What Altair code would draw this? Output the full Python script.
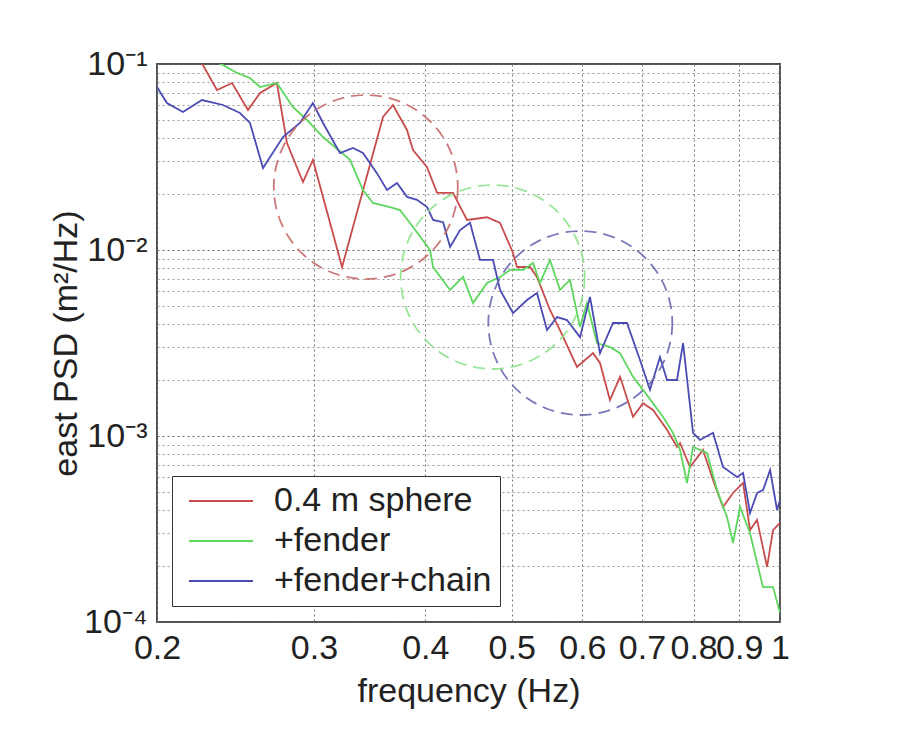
import altair as alt
import pandas as pd

series_names = ["0.4 m sphere", "+fender", "+fender+chain"]
line_colors = ["#c94c4c", "#5cd65c", "#4b4bb5"]
circle_colors = ["#c86a6a", "#8fe48f", "#6b6bb3"]

red_freq = [0.2, 0.2252, 0.2335, 0.2428, 0.2530, 0.2610, 0.2726, 0.2798, 0.2916, 0.2992,
            0.3226, 0.3586, 0.3680, 0.3815, 0.3875, 0.4018, 0.4123, 0.4297, 0.4455, 0.4691,
            0.4852, 0.5017, 0.5069, 0.5242, 0.5337, 0.5520, 0.5664, 0.5919, 0.6169, 0.6281,
            0.6445, 0.6615, 0.6841, 0.7020, 0.7203, 0.7468, 0.7664, 0.7724, 0.7926, 0.8197,
            0.8411, 0.8631, 0.8857, 0.9090, 0.9255, 0.9425, 0.9671, 0.9822, 1.0]
red_psd = [0.16, 0.0988, 0.0725, 0.0790, 0.0566, 0.0698, 0.0790, 0.0376, 0.0232, 0.0305,
           0.0081, 0.0519, 0.0602, 0.0442, 0.0345, 0.0279, 0.0203, 0.0203, 0.0145, 0.0150,
           0.0140, 0.00964, 0.0081, 0.0081, 0.00716, 0.00476, 0.00371, 0.00235, 0.00279, 0.00247,
           0.00156, 0.00208, 0.00127, 0.00150, 0.00138, 0.00108, 0.000873, 0.000917, 0.000681, 0.000841,
           0.000580, 0.000415, 0.000494, 0.000559, 0.000312, 0.000354, 0.000198, 0.000312, 0.000341]

green_freq = [0.2, 0.2372, 0.2459, 0.2543, 0.2610, 0.2726, 0.2841, 0.2946, 0.3071, 0.3293,
              0.3405, 0.3494, 0.3651, 0.3747, 0.3875, 0.4049, 0.4081, 0.4264, 0.4409, 0.4525,
              0.4691, 0.4852, 0.4979, 0.5148, 0.5284, 0.5379, 0.5520, 0.5664, 0.5813, 0.5965,
              0.6073, 0.6233, 0.6445, 0.6615, 0.6841, 0.7020, 0.7203, 0.7391, 0.7585, 0.7724,
              0.7864, 0.7988, 0.8282, 0.8499, 0.8721, 0.8857, 0.9019, 0.9255, 0.9425, 0.9572,
              0.9822, 1.0]
green_psd = [0.14, 0.0988, 0.0895, 0.0841, 0.0752, 0.0790, 0.0587, 0.0500, 0.0405, 0.0305,
             0.0210, 0.0179, 0.0170, 0.0164, 0.0133, 0.0100, 0.0081, 0.0061, 0.00716, 0.00519,
             0.00665, 0.00716, 0.00781, 0.00781, 0.00851, 0.00665, 0.00884, 0.0061, 0.0069, 0.00386,
             0.00519, 0.00316, 0.00301, 0.00279, 0.00208, 0.00177, 0.00150, 0.00127, 0.00104, 0.000841,
             0.000559, 0.000873, 0.000810, 0.000512, 0.000367, 0.000266, 0.000415, 0.000301, 0.000208, 0.000154,
             0.000154, 0.000112]

blue_freq = [0.2, 0.2052, 0.2139, 0.2246, 0.2372, 0.2478, 0.2543, 0.2630, 0.2769, 0.2893,
             0.2992, 0.3071, 0.3209, 0.3318, 0.3405, 0.3530, 0.3623, 0.3718, 0.3815, 0.3915,
             0.4018, 0.4081, 0.4188, 0.4264, 0.4376, 0.4490, 0.4607, 0.4765, 0.4852, 0.5017,
             0.5202, 0.5337, 0.5478, 0.5621, 0.5768, 0.5965, 0.6121, 0.6281, 0.6496, 0.6735,
             0.6965, 0.7147, 0.7334, 0.7468, 0.7664, 0.7785, 0.7988, 0.8133, 0.8411, 0.8631,
             0.8949, 0.9090, 0.9255, 0.9425, 0.9572, 0.9747, 0.9924, 1.0]
blue_psd = [0.0752, 0.0617, 0.0552, 0.0640, 0.0602, 0.0545, 0.0482, 0.0276, 0.0405, 0.0482,
            0.0617, 0.0482, 0.0332, 0.0354, 0.0332, 0.0259, 0.0210, 0.0229, 0.0193, 0.0186,
            0.0170, 0.0145, 0.0141, 0.01037, 0.0128, 0.0140, 0.00884, 0.00884, 0.0061, 0.00458,
            0.00538, 0.00587, 0.00371, 0.00436, 0.00420, 0.00340, 0.00559, 0.00279, 0.00405, 0.00405,
            0.00256, 0.00177, 0.00266, 0.00200, 0.00200, 0.00316, 0.00104, 0.000952, 0.00104, 0.000681,
            0.000602, 0.000632, 0.000385, 0.000494, 0.000512, 0.000656, 0.000400, 0.000453]

# dashed circles highlighting regions (centre in data units)
circle_freq = [0.343, 0.476, 0.597]
circle_psd = [0.0218, 0.00716, 0.00405]

x_ticks = [0.2, 0.3, 0.4, 0.5, 0.6, 0.7, 0.8, 0.9, 1.0]
y_decades = [1e-4, 1e-3, 1e-2, 1e-1]
y_labels = ["10\u207b\u2074", "10\u207b\u00b3", "10\u207b\u00b2", "10\u207b\u00b9"]
minor_mult = [1, 2, 3, 4, 5, 6, 7, 8, 9]

rows = []
for name, fr, ps in [(series_names[0], red_freq, red_psd),
                     (series_names[1], green_freq, green_psd),
                     (series_names[2], blue_freq, blue_psd)]:
    for i, (f, p) in enumerate(zip(fr, ps)):
        rows.append({"series": name, "freq": f, "psd": p, "idx": i})
df = pd.DataFrame(rows)

circ_df = pd.DataFrame({"ring": series_names, "freq": circle_freq, "psd": circle_psd})

y_grid = [m * d for d in y_decades[:-1] for m in minor_mult] + [y_decades[-1]]

label_expr = " : ".join(
    f"abs(datum.value/{d} - 1) < 1e-6 ? '{lab}'" for d, lab in zip(y_decades, y_labels)
) + " : ''"
decade_test = " || ".join(f"abs(datum.value/{d} - 1) < 1e-6" for d in y_decades)

FONT = "Liberation Sans"
FS = 34

x_scale = alt.Scale(type="log", domain=[0.2, 1.0], nice=False)
y_scale = alt.Scale(type="log", domain=[1e-4, 1e-1], nice=False)

x_axis = alt.Axis(
    values=x_ticks, labelExpr="format(datum.value, '.1~f')", title="frequency (Hz)",
    labelOverlap=False, labelFlush=False, labelBound=False, ticks=False, domain=False,
    grid=True, gridColor="#777777", gridDash=[2, 3], gridWidth=1,
    labelFontSize=FS, titleFontSize=FS, labelPadding=9, titlePadding=9,
    labelColor="#222222", titleColor="#222222", titleFontWeight="normal",
)
y_axis = alt.Axis(
    values=y_grid, labelExpr=label_expr, title="east PSD (m\u00b2/Hz)",
    labelOverlap=False, labelFlush=False, labelBound=False, ticks=False, domain=False,
    grid=True, gridDash=[2, 3], gridWidth=1,
    gridColor={"condition": {"test": decade_test, "value": "#666666"}, "value": "#9a9a9a"},
    labelFontSize=FS, titleFontSize=FS, labelPadding=10, titlePadding=0,
    labelColor="#222222", titleColor="#222222", titleFontWeight="normal",
)

circle_layers = []
for name, col in zip(series_names, circle_colors):
    circle_layers.append(
        alt.Chart(circ_df).transform_filter(alt.datum.ring == name).mark_point(
            shape="circle", size=33856, filled=False, strokeDash=[12, 7],
            strokeWidth=1.8, opacity=0.9, color=col,
        ).encode(
            x=alt.X("freq:Q", scale=x_scale),
            y=alt.Y("psd:Q", scale=y_scale),
        )
    )

lines = alt.Chart(df).mark_line(clip=True, strokeWidth=1.8).encode(
    x=alt.X("freq:Q", scale=x_scale, axis=x_axis),
    y=alt.Y("psd:Q", scale=y_scale, axis=y_axis),
    color=alt.Color(
        "series:N",
        scale=alt.Scale(domain=series_names, range=line_colors),
        sort=series_names,
        legend=alt.Legend(
            title=None, orient="none", legendX=15, legendY=412,
            symbolType="M-2,0H2", symbolSize=1024, symbolStrokeWidth=2,
            symbolOffset=24, labelOffset=36, labelFontSize=FS, labelFont=FONT,
            labelExpr="datum.label + '\u00a0\u00a0'",
            labelColor="#222222", labelLimit=500, rowPadding=6, padding=8,
            strokeColor="#333333", fillColor="white",
        ),
    ),
    order="idx:Q",
)

chart = alt.layer(lines, *circle_layers).properties(
    width=623, height=558,
    autosize=alt.AutoSizeParams(type="none"),
    padding={"left": 149, "top": 56, "right": 100, "bottom": 100},
    background="white",
).configure(font=FONT).configure_view(stroke="#505050", strokeWidth=2)

chart.save("out.html", embed_options={"renderer": "svg", "actions": False})
